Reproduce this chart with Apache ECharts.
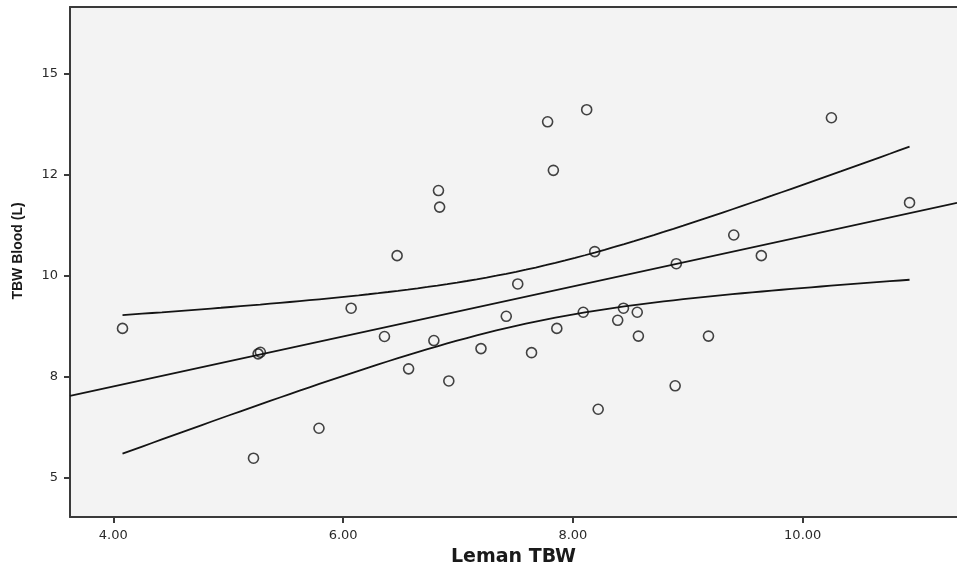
<!DOCTYPE html>
<html>
<head>
<meta charset="utf-8">
<title>TBW Blood vs Leman TBW</title>
<script src="https://cdn.jsdelivr.net/npm/echarts@6/dist/echarts.min.js"></script>
<style>
  html, body { margin: 0; padding: 0; background: #ffffff; }
  #chart { width: 957px; height: 570px; }
</style>
</head>
<body>
<div id="chart"></div>
<script>
// Observations: Leman TBW (x) and TBW Blood in litres (y)
const lemanTBW = [
  4.08, 5.22, 5.26, 5.28, 5.79, 6.07, 6.36, 6.47, 6.57, 6.79,
  6.83, 6.84, 6.92, 7.20, 7.42, 7.52, 7.64, 7.78, 7.83, 7.86,
  8.09, 8.12, 8.19, 8.22, 8.39, 8.44, 8.56, 8.57, 8.89, 8.90,
  9.18, 9.40, 9.64, 10.25, 10.93
];
const tbwBlood = [
  8.70, 5.49, 8.07, 8.11, 6.23, 9.20, 8.50, 10.50, 7.70, 8.40,
  12.11, 11.70, 7.40, 8.20, 9.00, 9.80, 8.10, 13.81, 12.61, 8.70,
  9.10, 14.11, 10.60, 6.70, 8.90, 9.20, 9.10, 8.51, 7.28, 10.30,
  8.51, 11.01, 10.50, 13.91, 11.81
];

// Axis ticks and their printed labels
const xTickValues = [4, 6, 8, 10];
const xTickLabels = ['4.00', '6.00', '8.00', '10.00'];
const yTickValues = [5, 7.5, 10, 12.5, 15];
const yTickLabels = ['5', '8', '10', '12', '15'];

// Axis extents
const xRange = [3.623, 11.343];
const yRange = [4.035, 16.65];

// Two-sided 95% critical t value for n - 2 = 33 degrees of freedom
const T_CRIT = 2.0345;

// Ordinary least squares fit with a 95% confidence band for the mean
function fitLinear(xs, ys) {
  const n = xs.length;
  const mx = xs.reduce((a, b) => a + b, 0) / n;
  const my = ys.reduce((a, b) => a + b, 0) / n;
  let sxx = 0, sxy = 0;
  for (let i = 0; i < n; i++) {
    sxx += (xs[i] - mx) * (xs[i] - mx);
    sxy += (xs[i] - mx) * (ys[i] - my);
  }
  const slope = sxy / sxx;
  const intercept = my - slope * mx;
  let sse = 0;
  for (let i = 0; i < n; i++) {
    const r = ys[i] - (intercept + slope * xs[i]);
    sse += r * r;
  }
  const s = Math.sqrt(sse / (n - 2));
  return {
    predict: x => intercept + slope * x,
    halfWidth: x => T_CRIT * s * Math.sqrt(1 / n + (x - mx) * (x - mx) / sxx)
  };
}

const fit = fitLinear(lemanTBW, tbwBlood);
const xMinObs = Math.min(...lemanTBW);
const xMaxObs = Math.max(...lemanTBW);

const fitLine = [xRange[0], xRange[1]].map(x => [x, fit.predict(x)]);
const upperBand = [];
const lowerBand = [];
const steps = 80;
for (let i = 0; i <= steps; i++) {
  const x = xMinObs + (xMaxObs - xMinObs) * i / steps;
  const y = fit.predict(x);
  const h = fit.halfWidth(x);
  upperBand.push([x, y + h]);
  lowerBand.push([x, y - h]);
}

const points = lemanTBW.map((x, i) => [x, tbwBlood[i]]);

const axisColor = '#3a3a3a';
const textColor = '#2a2a2a';
const lineColor = '#141414';

const chart = echarts.init(document.getElementById('chart'), null, { renderer: 'canvas' });

chart.setOption({
  animation: false,
  backgroundColor: '#ffffff',
  grid: {
    left: 70, right: 0, top: 7, bottom: 53,
    outerBoundsMode: 'none',
    containLabel: false,
    show: true,
    backgroundColor: '#f3f3f3',
    borderWidth: 0
  },
  xAxis: [
    {
      type: 'value',
      min: xRange[0], max: xRange[1],
      position: 'bottom',
      axisLine: { show: true, onZero: false, lineStyle: { color: axisColor, width: 2 } },
      axisTick: { show: true, customValues: xTickValues, length: 6, lineStyle: { color: axisColor, width: 2 } },
      axisLabel: {
        customValues: xTickValues,
        formatter: v => xTickLabels[xTickValues.indexOf(v)],
        margin: 12,
        color: textColor, fontFamily: 'DejaVu Sans', fontSize: 13
      },
      splitLine: { show: false },
      name: 'Leman TBW',
      nameLocation: 'middle',
      nameGap: 31,
      nameTextStyle: { color: '#1a1a1a', fontFamily: 'DejaVu Sans', fontWeight: 'bold', fontSize: 19 }
    },
    {
      type: 'value',
      min: xRange[0], max: xRange[1],
      position: 'top',
      axisLine: { show: true, onZero: false, lineStyle: { color: axisColor, width: 2 } },
      axisTick: { show: false },
      axisLabel: { show: false },
      splitLine: { show: false }
    }
  ],
  yAxis: {
    type: 'value',
    min: yRange[0], max: yRange[1],
    axisLine: { show: true, onZero: false, lineStyle: { color: axisColor, width: 2 } },
    axisTick: { show: true, customValues: yTickValues, length: 6, lineStyle: { color: axisColor, width: 2 } },
    axisLabel: {
      customValues: yTickValues,
      formatter: v => yTickLabels[yTickValues.indexOf(v)],
      margin: 12,
      color: textColor, fontFamily: 'DejaVu Sans', fontSize: 13
    },
    splitLine: { show: false }
  },
  graphic: [
    {
      type: 'text',
      x: 18, y: 251,
      rotation: Math.PI / 2,
      style: {
        text: 'TBW Blood (L)',
        fill: '#1a1a1a',
        font: 'bold 14px "Liberation Sans", Arial, sans-serif',
        align: 'center',
        verticalAlign: 'middle'
      }
    }
  ],
  series: [
    {
      name: 'Fit',
      type: 'line',
      data: fitLine,
      showSymbol: false,
      lineStyle: { color: lineColor, width: 1.8 },
      silent: true,
      z: 2
    },
    {
      name: 'Upper 95% CI',
      type: 'line',
      data: upperBand,
      showSymbol: false,
      lineStyle: { color: lineColor, width: 1.8 },
      silent: true,
      z: 2
    },
    {
      name: 'Lower 95% CI',
      type: 'line',
      data: lowerBand,
      showSymbol: false,
      lineStyle: { color: lineColor, width: 1.8 },
      silent: true,
      z: 2
    },
    {
      name: 'TBW Blood',
      type: 'scatter',
      data: points,
      symbol: 'circle',
      symbolSize: 10,
      itemStyle: { color: 'rgba(0,0,0,0)', borderColor: lineColor, borderWidth: 1.6 },
      z: 3
    }
  ]
});
</script>
</body>
</html>
